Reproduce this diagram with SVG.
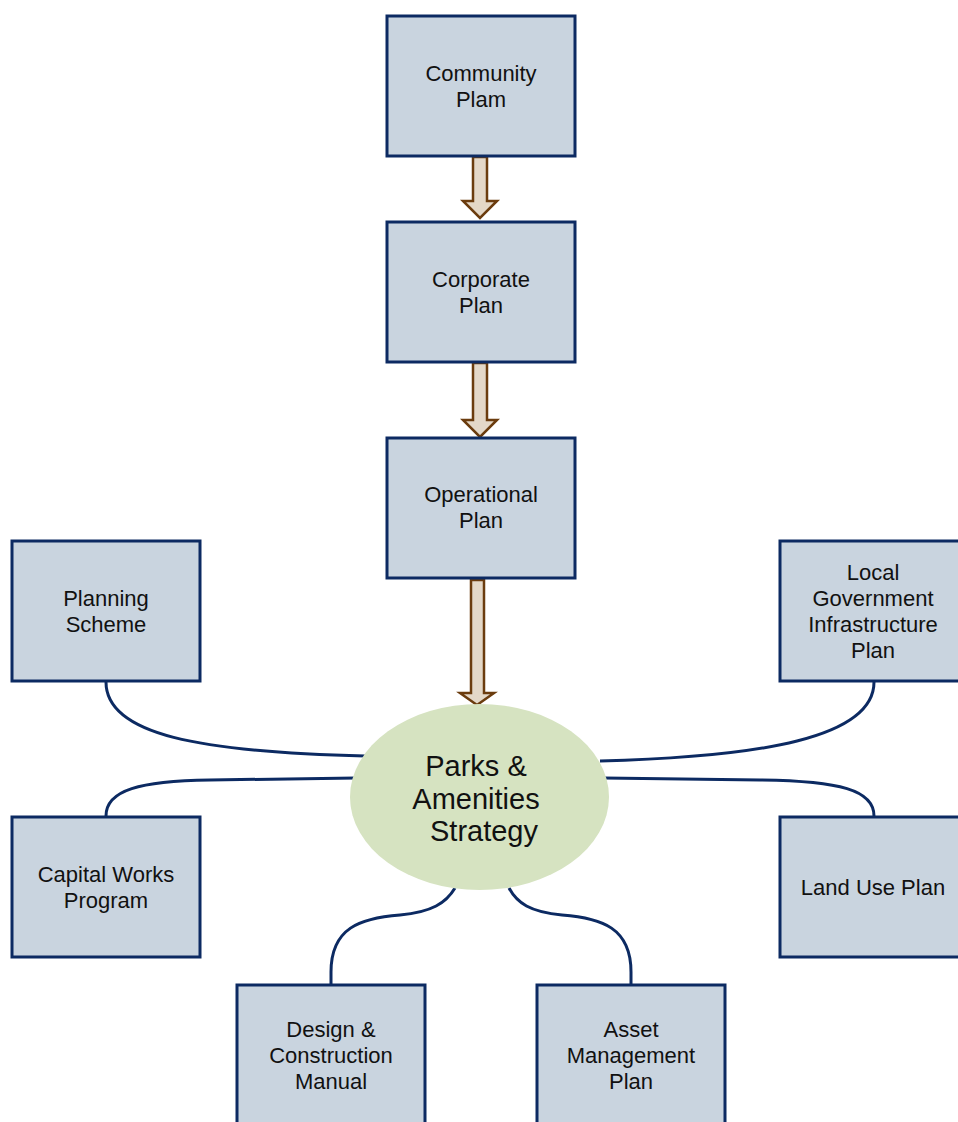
<svg xmlns="http://www.w3.org/2000/svg" width="958" height="1122" viewBox="0 0 958 1122">
<style>
.box{fill:#c9d4df;stroke:#0c2a62;stroke-width:3}
.t{font-family:"Liberation Sans",Arial,sans-serif;font-size:22px;fill:#111;text-anchor:middle}
.big{font-family:"Liberation Sans",Arial,sans-serif;font-size:29px;fill:#111;text-anchor:middle}
.arr{fill:#e4d8c8;stroke:#6b3c0e;stroke-width:2.5;stroke-linejoin:miter}
.con{fill:none;stroke:#0c2a62;stroke-width:3}
</style>
<rect width="958" height="1122" fill="#ffffff"/>
<g id="connectors">
<path class="arr" d="M473,157 L487,157 L487,201 L497,201 L480,218 L463,201 L473,201 Z"/>
<path class="arr" d="M473,363 L487,363 L487,420 L497,420 L480,437 L463,420 L473,420 Z"/>
<path class="arr" d="M471,580 L484,580 L484,693 L494,693 L477,705 L460,693 L471,693 Z"/>
<path class="con" d="M106,682 C106,735 200,752 365,756"/>
<path class="con" d="M106,816 C106,790 140,781 210,780 L356,778"/>
<path class="con" d="M874,682 C874,738 760,757 600,761"/>
<path class="con" d="M874,816 C874,790 840,781 760,780 L604,778"/>
<path class="con" d="M331,984 L331,972 C331,928 360,918 400,915 C432,912 446,903 455,888"/>
<path class="con" d="M631,984 L631,972 C631,928 602,918 562,915 C530,912 517,903 509,888"/>
</g>
<g id="community"><rect class="box" x="387" y="16" width="188" height="140"/><text class="t" x="481" y="81">Community</text><text class="t" x="481" y="107">Plam</text></g>
<g id="corporate"><rect class="box" x="387" y="222" width="188" height="140"/><text class="t" x="481" y="287">Corporate</text><text class="t" x="481" y="313">Plan</text></g>
<g id="operational"><rect class="box" x="387" y="438" width="188" height="140"/><text class="t" x="481" y="502">Operational</text><text class="t" x="481" y="528">Plan</text></g>
<g id="planning"><rect class="box" x="12" y="541" width="188" height="140"/><text class="t" x="106" y="606">Planning</text><text class="t" x="106" y="632">Scheme</text></g>
<g id="lgip"><rect class="box" x="780" y="541" width="188" height="140"/><text class="t" x="873" y="580">Local</text><text class="t" x="873" y="606">Government</text><text class="t" x="873" y="632">Infrastructure</text><text class="t" x="873" y="658">Plan</text></g>
<g id="capital"><rect class="box" x="12" y="817" width="188" height="140"/><text class="t" x="106" y="882">Capital Works</text><text class="t" x="106" y="908">Program</text></g>
<g id="landuse"><rect class="box" x="780" y="817" width="188" height="140"/><text class="t" x="873" y="895">Land Use Plan</text></g>
<g id="design"><rect class="box" x="237" y="985" width="188" height="145"/><text class="t" x="331" y="1037">Design &amp;</text><text class="t" x="331" y="1063">Construction</text><text class="t" x="331" y="1089">Manual</text></g>
<g id="asset"><rect class="box" x="537" y="985" width="188" height="145"/><text class="t" x="631" y="1037">Asset</text><text class="t" x="631" y="1063">Management</text><text class="t" x="631" y="1089">Plan</text></g>
<g id="strategy"><ellipse cx="479.5" cy="797" rx="129.5" ry="93" fill="#d6e3c1"/><text class="big" x="476" y="776">Parks &amp;</text><text class="big" x="476" y="809">Amenities</text><text class="big" x="484" y="841">Strategy</text></g>
</svg>
